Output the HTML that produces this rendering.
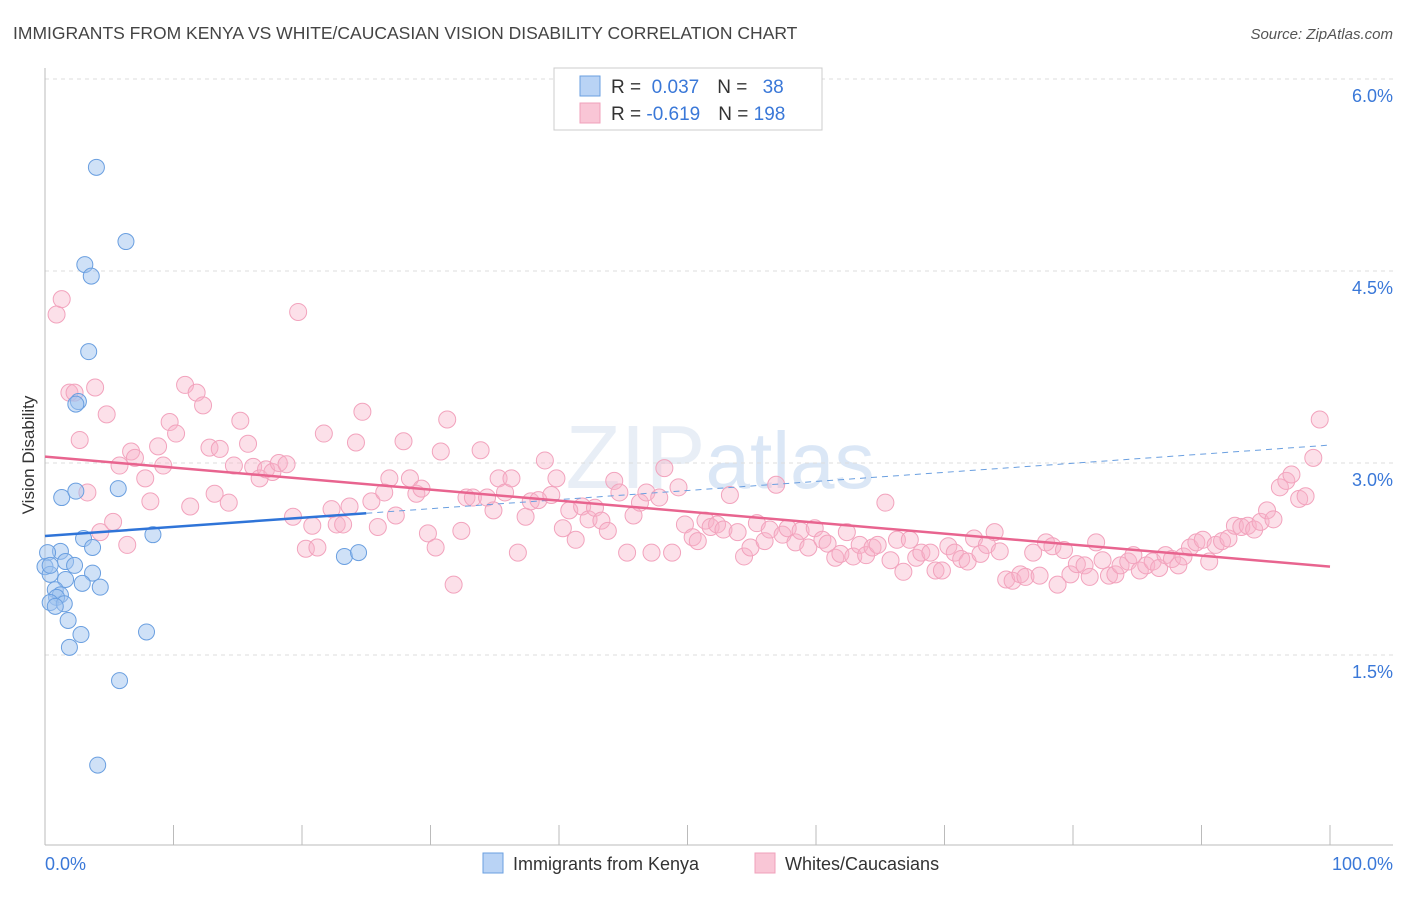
<!DOCTYPE html>
<html><head><meta charset="utf-8"><style>
body{margin:0;background:#fff;font-family:"Liberation Sans",sans-serif;}
svg text{font-family:"Liberation Sans",sans-serif;}
</style></head><body>
<svg id="chart" width="1406" height="892" viewBox="0 0 1406 892" xmlns="http://www.w3.org/2000/svg">
<text x="13" y="39" font-size="17.5" fill="#444">IMMIGRANTS FROM KENYA VS WHITE/CAUCASIAN VISION DISABILITY CORRELATION CHART</text>
<text x="1393" y="39" font-size="15" fill="#555" text-anchor="end" font-style="italic">Source: ZipAtlas.com</text>
<text x="720" y="488" font-size="90" fill="#e8eef6" text-anchor="middle" font-family="Liberation Serif">ZIP<tspan fill="#dbe7f6" font-family="Liberation Sans" font-size="80">atlas</tspan></text>
<g id="grid"></g>
<g id="axes"></g>
<g id="marks"></g>
<g id="trends"></g>
<g>
<rect x="554" y="68" width="268" height="62" fill="#fff" stroke="#ccc"/>
<rect x="580" y="76" width="20" height="20" fill="#b9d3f5" stroke="#6a9fe0"/>
<rect x="580" y="103" width="20" height="20" fill="#f9c6d6" stroke="#f0a0bb"/>
<text x="611" y="93" font-size="19" fill="#333">R = <tspan fill="#3a78d8">&#160;0.037</tspan><tspan dx="18" fill="#333">N = </tspan><tspan dx="10" fill="#3a78d8">38</tspan></text>
<text x="611" y="120" font-size="19" fill="#333">R = <tspan fill="#3a78d8">-0.619</tspan><tspan dx="18" fill="#333">N = </tspan><tspan fill="#3a78d8">198</tspan></text>
</g>
<g>
<rect x="483" y="853" width="20" height="20" fill="#b9d3f5" stroke="#6a9fe0"/>
<text x="513" y="870" font-size="18" fill="#333">Immigrants from Kenya</text>
<rect x="755" y="853" width="20" height="20" fill="#f9c6d6" stroke="#f0a0bb"/>
<text x="785" y="870" font-size="18" fill="#333">Whites/Caucasians</text>
</g>
<text transform="translate(34,455) rotate(-90)" font-size="17" fill="#333" text-anchor="middle">Vision Disability</text>
</svg>
<script>
const blueX=[4.0,6.3,3.1,3.6,3.4,2.6,2.4,1.3,2.4,5.7,8.4,3.0,3.7,1.2,0.2,1.6,2.3,0.0,0.4,3.7,1.6,2.9,4.3,0.8,1.2,0.9,0.4,1.5,0.8,1.8,2.8,7.9,1.9,5.8,4.1,23.3,24.4,0.4];
const blueY=[5.31,4.73,4.55,4.46,3.87,3.48,3.46,2.73,2.78,2.80,2.44,2.41,2.34,2.31,2.30,2.23,2.20,2.19,2.13,2.14,2.09,2.06,2.03,2.01,1.97,1.95,1.91,1.90,1.88,1.77,1.66,1.68,1.56,1.30,0.64,2.27,2.30,2.20];
const pinkX=[0.9,1.3,1.9,2.3,2.7,3.3,3.9,4.3,4.8,5.3,5.8,6.4,6.7,7.0,7.8,8.2,8.8,9.2,9.7,10.2,10.9,11.3,11.8,12.3,12.8,13.2,13.6,14.3,14.7,15.2,15.8,16.2,16.7,17.2,17.7,18.2,18.8,19.3,19.7,20.3,20.8,21.2,21.7,22.3,22.7,23.2,23.7,24.2,24.7,25.4,25.9,26.4,26.8,27.3,27.9,28.4,28.9,29.3,29.8,30.4,30.8,31.3,31.8,32.4,32.8,33.3,33.9,34.4,34.9,35.3,35.8,36.3,36.8,37.4,37.8,38.4,38.9,39.4,39.8,40.3,40.8,41.3,41.8,42.3,42.8,43.3,43.8,44.3,44.7,45.3,45.8,46.3,46.8,47.2,47.8,48.2,48.8,49.3,49.8,50.4,50.8,51.4,51.8,52.3,52.8,53.3,53.9,54.4,54.9,55.4,56.0,56.4,56.9,57.4,57.8,58.4,58.8,59.4,59.9,60.5,60.9,61.5,61.9,62.4,62.9,63.4,63.9,64.4,64.8,65.4,65.8,66.3,66.8,67.3,67.8,68.2,68.9,69.3,69.8,70.3,70.8,71.3,71.8,72.3,72.8,73.3,73.9,74.3,74.8,75.3,75.9,76.3,76.9,77.4,77.9,78.4,78.8,79.3,79.8,80.3,80.9,81.3,81.8,82.3,82.8,83.3,83.7,84.3,84.7,85.2,85.7,86.2,86.7,87.2,87.7,88.2,88.6,89.1,89.6,90.1,90.6,91.1,91.6,92.1,92.6,93.1,93.6,94.1,94.6,95.1,95.6,96.1,96.6,97.0,97.6,98.1,98.7,99.2];
const pinkY=[4.16,4.28,3.55,3.55,3.18,2.77,3.59,2.46,3.38,2.54,2.98,2.36,3.09,3.04,2.88,2.70,3.13,2.98,3.32,3.23,3.61,2.66,3.55,3.45,3.12,2.76,3.11,2.69,2.98,3.33,3.15,2.97,2.88,2.95,2.93,3.00,2.99,2.58,4.18,2.33,2.51,2.34,3.23,2.64,2.52,2.52,2.66,3.16,3.40,2.70,2.50,2.77,2.88,2.59,3.17,2.88,2.76,2.80,2.45,2.34,3.09,3.34,2.05,2.47,2.73,2.73,3.10,2.73,2.63,2.88,2.77,2.88,2.30,2.58,2.70,2.71,3.02,2.75,2.88,2.49,2.63,2.40,2.66,2.56,2.65,2.55,2.47,2.86,2.77,2.30,2.59,2.69,2.77,2.30,2.73,2.96,2.30,2.81,2.52,2.42,2.39,2.55,2.50,2.52,2.48,2.75,2.46,2.27,2.34,2.53,2.39,2.48,2.83,2.44,2.49,2.38,2.47,2.34,2.49,2.40,2.37,2.26,2.29,2.46,2.27,2.36,2.28,2.34,2.36,2.69,2.24,2.40,2.15,2.40,2.26,2.30,2.30,2.16,2.16,2.35,2.30,2.25,2.23,2.41,2.29,2.36,2.46,2.31,2.09,2.08,2.13,2.11,2.30,2.12,2.38,2.35,2.05,2.32,2.13,2.21,2.20,2.11,2.38,2.24,2.12,2.13,2.20,2.23,2.28,2.16,2.20,2.23,2.18,2.28,2.25,2.20,2.27,2.34,2.38,2.40,2.23,2.36,2.39,2.41,2.51,2.50,2.51,2.48,2.54,2.63,2.56,2.81,2.86,2.91,2.72,2.74,3.04,3.34];
const trendBlue=[2.43,3.14];
const trendPink=[3.05,2.19];
const yTicks=[1.5,3.0,4.5,6.0];
const yTickLabels=["1.5%","3.0%","4.5%","6.0%"];
const xTicks=[0,10,20,30,40,50,60,70,80,90,100];

const NS="http://www.w3.org/2000/svg";
const X=v=>45+v*12.85;
const Y=v=>847-v*128;
function mk(tag,attrs,parent){const e=document.createElementNS(NS,tag);for(const k in attrs)e.setAttribute(k,attrs[k]);parent.appendChild(e);return e;}
const grid=document.getElementById('grid'),axes=document.getElementById('axes'),marks=document.getElementById('marks'),trends=document.getElementById('trends');
yTicks.forEach((t,i)=>{
  const l=mk('line',{x1:45,x2:1393,y1:Y(t),y2:Y(t),stroke:'#ddd','stroke-dasharray':'4,4'},grid);
  
  
  const tx=mk('text',{x:1393,y:Y(t)+23,'font-size':18,fill:'#3a78d8','text-anchor':'end'},axes);
  tx.textContent=yTickLabels[i];
  
  
});
const al=mk('line',{x1:45,x2:45,y1:68,y2:845,stroke:'#bbb'},axes);


const bl=mk('line',{x1:45,x2:1393,y1:845,y2:845,stroke:'#bbb'},axes);


xTicks.forEach(t=>{
  const k=mk('line',{x1:X(t),x2:X(t),y1:825,y2:845,stroke:'#bbb'},axes);
  
  
});
const x0=mk('text',{x:45,y:870,'font-size':18,fill:'#3a78d8'},axes);x0.textContent='0.0%';


const x1=mk('text',{x:1393,y:870,'font-size':18,fill:'#3a78d8','text-anchor':'end'},axes);x1.textContent='100.0%';


pinkX.forEach((v,i)=>{
  const c=mk('circle',{cx:X(v),cy:Y(pinkY[i]),r:8.5,fill:'rgba(248,178,200,0.4)',stroke:'#f2a3bd','stroke-width':1},marks);
  
  
});
blueX.forEach((v,i)=>{
  const c=mk('circle',{cx:X(v),cy:Y(blueY[i]),r:8,fill:'rgba(160,195,240,0.5)',stroke:'#6a9fe0','stroke-width':1},marks);
  
  
});
const bAt=x=>trendBlue[0]+(trendBlue[1]-trendBlue[0])*x/100;
const tb1=mk('line',{x1:X(0),y1:Y(bAt(0)),x2:X(25),y2:Y(bAt(25)),stroke:'#2f74d8','stroke-width':2.5},trends);


const tb2=mk('line',{x1:X(25),y1:Y(bAt(25)),x2:X(100),y2:Y(bAt(100)),stroke:'#6a9fe0','stroke-width':1,'stroke-dasharray':'6,5'},trends);


const tp=mk('line',{x1:X(0),y1:Y(trendPink[0]),x2:X(100),y2:Y(trendPink[1]),stroke:'#e8648f','stroke-width':2.5},trends);


</script>
</body></html>
